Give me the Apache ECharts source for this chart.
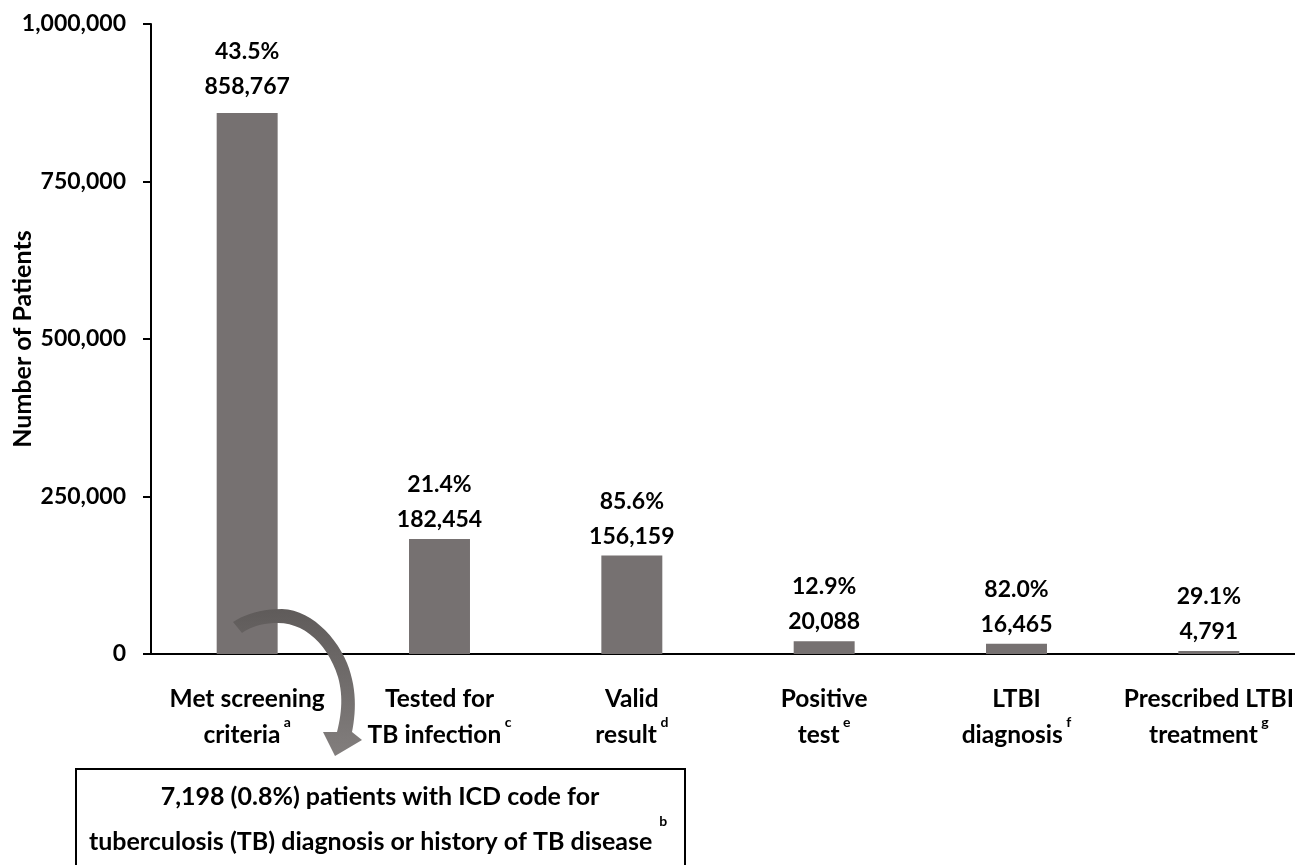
<!DOCTYPE html>
<html>
<head>
<meta charset="utf-8">
<script src="https://cdn.jsdelivr.net/npm/echarts@6/dist/echarts.min.js"></script>
<style>
html,body{margin:0;padding:0;background:#fff;}
#chart{width:1295px;height:865px;}
</style>
</head>
<body>
<div id="chart"></div>
<script>
// ---- data ----
var categories = ['Met screening\ncriteria', 'Tested for\nTB infection', 'Valid\nresult', 'Positive\ntest', 'LTBI\ndiagnosis', 'Prescribed LTBI\ntreatment'];
var footnotes = ['a', 'c', 'd', 'e', 'f', 'g'];
var patients = [858767, 182454, 156159, 20088, 16465, 4791];
var percents = ['43.5%', '21.4%', '85.6%', '12.9%', '82.0%', '29.1%'];
var yTicks = [0, 250000, 500000, 750000, 1000000];
var boxLine1 = '7,198 (0.8%) patients with ICD code for';
var boxLine2 = 'tuberculosis (TB) diagnosis or history of TB disease';
var boxNote = 'b';

var FONT = 'Lato';
var FS = 25;
function fmt(v){ return v.toLocaleString('en-US'); }

// decorative curved arrow outline (cubic segments), sampled into a polygon
function cubic(p0, p1, p2, p3, n){
  var pts = [];
  for (var i = 1; i <= n; i++){
    var t = i / n, u = 1 - t;
    pts.push([
      u*u*u*p0[0] + 3*u*u*t*p1[0] + 3*u*t*t*p2[0] + t*t*t*p3[0],
      u*u*u*p0[1] + 3*u*u*t*p1[1] + 3*u*t*t*p2[1] + t*t*t*p3[1]
    ]);
  }
  return pts;
}
var arrowPts = [[233, 622]];
arrowPts = arrowPts.concat(cubic([233,622],[245,614],[262,609],[282,609], 10));
arrowPts = arrowPts.concat(cubic([282,609],[310,610],[335,635],[347,663], 14));
arrowPts = arrowPts.concat(cubic([347,663],[357,688],[356,712],[352,732], 14));
arrowPts.push([362,740],[335,756],[323,732],[337,732]);
arrowPts = arrowPts.concat(cubic([337,732],[342,712],[343,695],[338,677], 14));
arrowPts = arrowPts.concat(cubic([338,677],[328,645],[305,623],[278,623], 14));
arrowPts = arrowPts.concat(cubic([278,623],[262,623],[250,627],[242,633], 10));

var chart = echarts.init(document.getElementById('chart'));

var barData = patients.map(function(v, i){
  var item = { value: v };
  if (i === 0) item.label = { distance: 9 };
  return item;
});

var option = {
  backgroundColor: '#ffffff',
  animation: false,
  textStyle: { fontFamily: FONT },
  grid: { left: 151, top: 24, bottom: 211, right: -10, containLabel: false, outerBoundsMode: 'none' },
  xAxis: {
    type: 'category',
    data: categories,
    axisLine: { show: true, lineStyle: { color: '#000', width: 2 } },
    axisTick: { show: false },
    axisLabel: {
      interval: 0,
      margin: 27,
      formatter: function(val, idx){
        var lines = val.split('\n');
        return '{n|' + lines[0] + '}\n{n|' + lines[1] + '}{s| ' + footnotes[idx] + '}';
      },
      rich: {
        n: { fontFamily: FONT, fontSize: 24.5, fontWeight: 'bold', color: '#000', lineHeight: 36 },
        s: { fontFamily: FONT, fontSize: 14, fontWeight: 'bold', color: '#000', lineHeight: 36, verticalAlign: 'top', padding: [-2, 0, 0, 0] }
      }
    }
  },
  yAxis: {
    type: 'value',
    min: 0,
    max: 1000000,
    interval: 250000,
    name: 'Number of Patients',
    nameLocation: 'middle',
    nameGap: 116,
    nameMoveOverlap: false,
    nameTextStyle: { fontFamily: FONT, fontSize: FS, fontWeight: 'bold', color: '#000' },
    axisLine: { show: true, lineStyle: { color: '#000', width: 2 } },
    axisTick: { show: true, length: 8, lineStyle: { color: '#000', width: 2 } },
    splitLine: { show: false },
    axisLabel: {
      margin: 25,
      fontFamily: FONT, fontSize: 23, fontWeight: 'bold', color: '#000',
      formatter: function(v){ return yTicks.indexOf(v) >= 0 ? fmt(v) : ''; }
    }
  },
  series: [{
    type: 'bar',
    data: barData,
    barWidth: '31.7%',
    itemStyle: { color: '#767171' },
    label: {
      show: true,
      position: 'top',
      distance: 2,
      fontFamily: FONT, fontSize: 23, fontWeight: 'bold', color: '#000',
      lineHeight: 35,
      formatter: function(p){ return percents[p.dataIndex] + '\n' + fmt(p.value); }
    }
  }],
  graphic: [
    {
      type: 'rect', z: 50,
      shape: { x: 76, y: 769, width: 609, height: 140 },
      style: { fill: '#fff', stroke: '#000', lineWidth: 2 }
    },
    {
      type: 'text', z: 51,
      style: {
        x: 380, y: 797, align: 'center', verticalAlign: 'middle',
        text: boxLine1,
        font: 'bold ' + FS + 'px ' + FONT, fill: '#000'
      }
    },
    {
      type: 'text', z: 51,
      style: {
        x: 378, y: 842, align: 'center', verticalAlign: 'middle',
        text: '{n|' + boxLine2 + '}{s|  ' + boxNote + '}',
        rich: {
          n: { font: 'bold ' + FS + 'px ' + FONT, fill: '#000', lineHeight: 36 },
          s: { font: 'bold 14px ' + FONT, fill: '#000', lineHeight: 36, verticalAlign: 'top', padding: [-10, 0, 0, 0] }
        }
      }
    },
    {
      type: 'polygon', z: 60,
      shape: { points: arrowPts },
      style: {
        fill: new echarts.graphic.LinearGradient(0, 0, 0, 1, [
          { offset: 0, color: '#5f5b5a' },
          { offset: 1, color: '#827e7d' }
        ]),
        stroke: null
      }
    }
  ]
};
chart.setOption(option);
</script>
</body>
</html>
